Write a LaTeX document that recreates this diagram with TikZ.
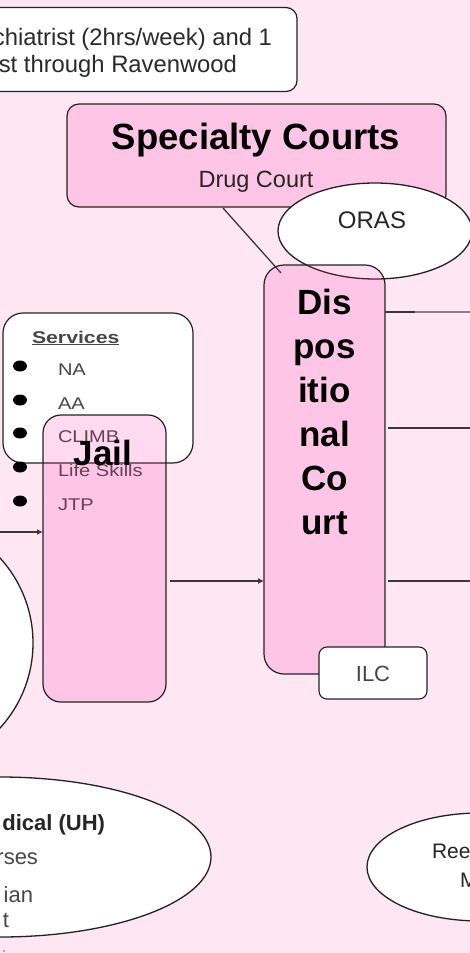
\documentclass[tikz,border=0pt]{standalone}
\usepackage{fontspec}
\setmainfont{Liberation Sans}
\usetikzlibrary{arrows.meta,shapes.geometric}
\definecolor{bgpink}{RGB}{255,230,243}
\definecolor{boxpink}{RGB}{255,40,170}
\definecolor{edge}{RGB}{34,34,34}
\definecolor{linegray}{RGB}{60,55,58}
\definecolor{txtgray}{RGB}{70,70,70}
\tikzset{
  pinkbox/.style={draw=edge,line width=1.2pt,fill=boxpink,fill opacity=0.17,inner sep=0pt,outer sep=0pt,rectangle},
  whitebox/.style={draw=edge,line width=1.2pt,fill=white,inner sep=0pt,outer sep=0pt,rectangle},
  whiteell/.style={draw=edge,line width=1.3pt,fill=white,inner sep=0pt,outer sep=0pt,ellipse},
  conn/.style={draw=linegray,line width=1.8pt},
  arr/.style={conn,-{Latex[length=6pt,width=6pt]}},
  lbl/.style={inner sep=0pt,outer sep=0pt},
}
\begin{document}
\begin{tikzpicture}[x=1pt,y=-1pt]
\useasboundingbox (0,0) rectangle (470,953);
\clip (0,0) rectangle (470,953);
\fill[bgpink] (0,0) rectangle (470,953);

% top box (cut off at left)
\node[whitebox,rounded corners=11pt,minimum width=327pt,minimum height=84pt] (topbox) at (133.5,49.5) {};
\node[lbl,anchor=base east,font=\fontsize{23.8}{28}\selectfont,text=txtgray!60!black] (top1) at (272,45) {chiatrist (2hrs/week) and 1};
\node[lbl,anchor=base east,font=\fontsize{23.8}{28}\selectfont,text=txtgray!60!black] (top2) at (237,72) {st through Ravenwood};

% Specialty courts
\node[pinkbox,rounded corners=12pt,minimum width=379pt,minimum height=103pt] (spec) at (256.5,155.5) {};
\node[lbl,anchor=base,font=\fontsize{36.5}{40}\selectfont\bfseries] (spect) at (256,149) {Specialty Courts};
\node[lbl,anchor=base,font=\fontsize{23.5}{26}\selectfont,text=black!85] (drug) at (256,187) {Drug Court};

\coordinate (specfoot) at (223,208);
\coordinate (courttop) at (281,273);
\draw[draw=linegray,line width=1.3pt] (specfoot) -- (courttop);

% ORAS ellipse
\node[whiteell,minimum width=194pt,minimum height=96pt] (oras) at (375,231) {};
\node[lbl,anchor=base,font=\fontsize{24}{28}\selectfont,text=black!85] (orast) at (372,228) {ORAS};

% Dispositional court
\node[pinkbox,rounded corners=20pt,minimum width=121pt,minimum height=409pt] (court) at (324.5,469.5) {};
\foreach \w [count=\i] in {Dis,pos,itio,nal,Co,urt}{
  \node[lbl,anchor=base,font=\fontsize{35}{42}\selectfont\bfseries] (ct\i) at (324.5,{314+44*(\i-1)}) {\w};
}
\node[whitebox,rounded corners=8pt,minimum width=108pt,minimum height=52pt,line width=1.1pt] (ilc) at (373,673) {};
\node[lbl,anchor=base,font=\fontsize{22}{26}\selectfont,text=txtgray] (ilct) at (373,681) {ILC};

% Services box
\node[whitebox,rounded corners=20pt,minimum width=190pt,minimum height=150pt] (serv) at (98,388) {};
\node[lbl,anchor=base west,font=\fontsize{17}{20}\selectfont\bfseries,text=txtgray,xscale=1.25] (servt) at (32,343) {\underline{Services}};
\foreach \w/\yy [count=\i] in {NA/375,AA/409,CLIMB/442,Life Skills/476,JTP/510}{
  \fill[black] (20,{\yy-9}) ellipse (7pt and 5.5pt);
  \node[lbl,anchor=base west,font=\fontsize{17}{20}\selectfont,text=txtgray,xscale=1.18] (s\i) at (58,\yy) {\w};
}

% Jail
\node[pinkbox,rounded corners=18pt,minimum width=123pt,minimum height=287pt] (jail) at (104.5,558.5) {};
\node[lbl,anchor=base,font=\fontsize{35}{42}\selectfont\bfseries] (jailt) at (103,465) {Jail};

% connectors
\coordinate (inL) at (0,532);
\draw[arr] (inL) -- (jail.west |- inL);
\draw[arr,shorten <=4pt] (jail.east |- 0,581) -- (court.west |- 0,581);
\coordinate (out1) at (470,312);
\coordinate (out2) at (470,428);
\coordinate (out3) at (470,581);
\draw[draw=black!45!bgpink,line width=1.6pt] (court.east |- out1) -- (out1);
\draw[draw=linegray,line width=1.6pt] (court.east |- out1) -- (415,312);
\draw[conn,shorten <=3pt] (court.east |- out2) -- (out2);
\draw[conn,shorten <=3pt] (court.east |- out3) -- (out3);

% left circle
\node[whiteell,circle,minimum size=252pt] (leftc) at (-93,643) {};

% Medical ellipse
\node[whiteell,minimum width=422pt,minimum height=160pt] (med) at (0,857) {};
\node[lbl,anchor=base east,font=\fontsize{22}{24}\selectfont\bfseries,text=black!85] (med1) at (105,830) {dical (UH)};
\node[lbl,anchor=base east,font=\fontsize{22}{24}\selectfont,text=txtgray] (med2) at (38,864) {rses};
\node[lbl,anchor=base east,font=\fontsize{22}{24}\selectfont,text=txtgray] (med3) at (33,902) {ian};
\node[lbl,anchor=base east,font=\fontsize{22}{24}\selectfont,text=txtgray] (med4) at (9,927) {t};
\node[lbl,anchor=base east,font=\fontsize{22}{24}\selectfont,text=txtgray!50] (med5) at (31,966) {ian};

% bottom right ellipse
\node[whiteell,minimum width=226pt,minimum height=108pt] (reent) at (480,867) {};
\node[lbl,anchor=base west,font=\fontsize{21}{25}\selectfont,text=black!85] (re1) at (432,858) {Ree};
\node[lbl,anchor=base west,font=\fontsize{21}{25}\selectfont,text=black!85] (re2) at (460,887) {M};
\end{tikzpicture}
\end{document}
